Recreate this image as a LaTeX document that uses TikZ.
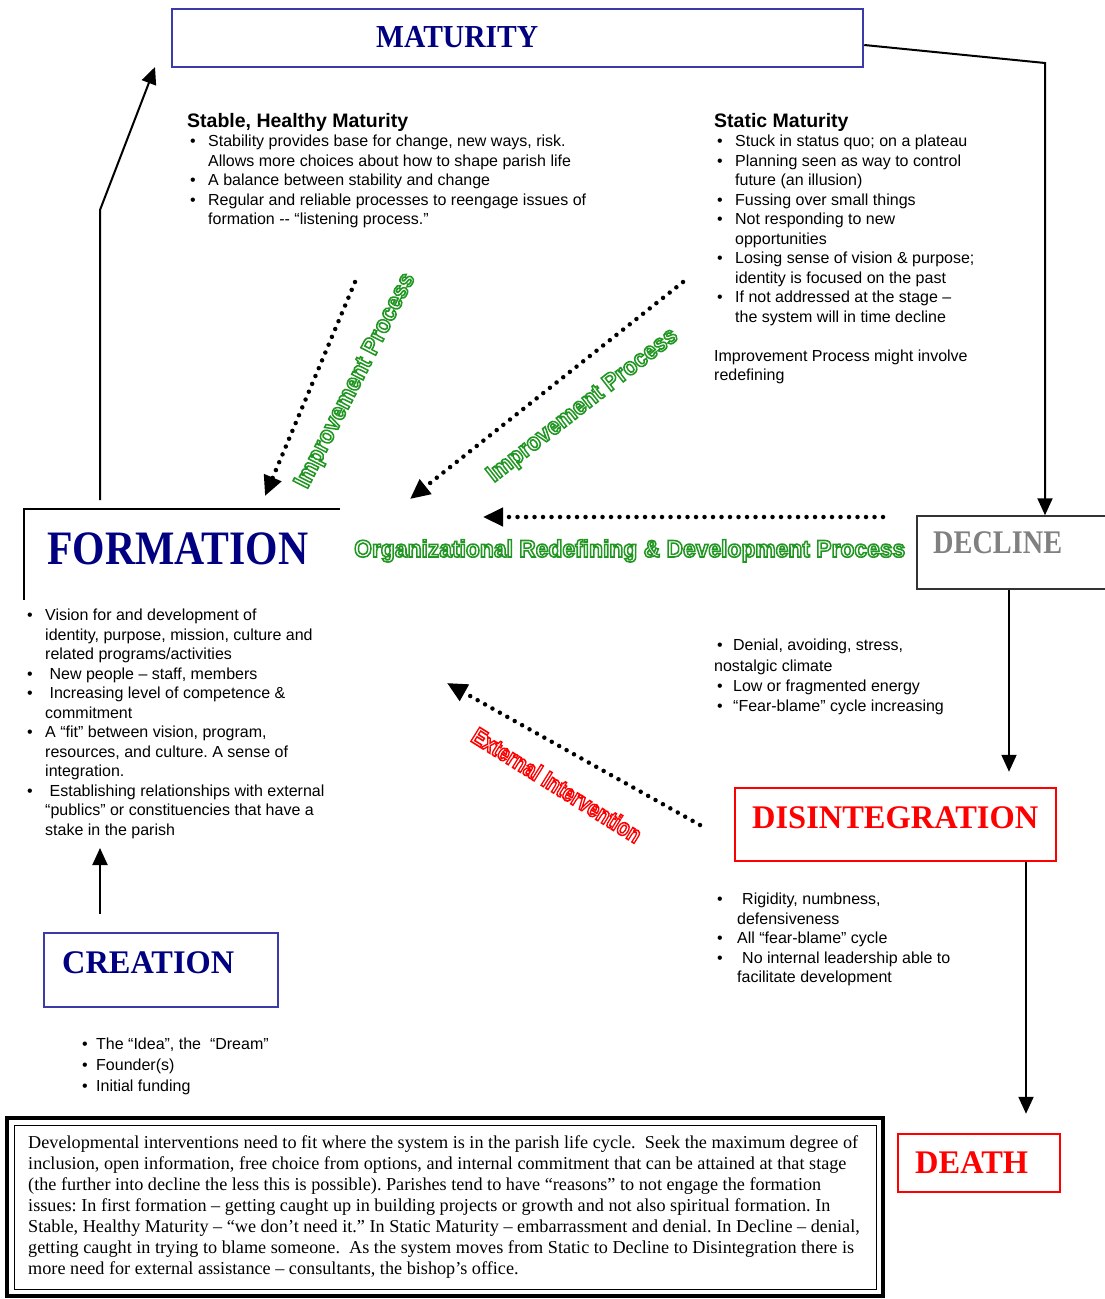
\documentclass[tikz,border=0pt]{standalone}
\usepackage{fontspec}
\setmainfont{Liberation Serif}
\setsansfont{Liberation Sans}
\usetikzlibrary{arrows.meta,calc}

\definecolor{titlenavy}{RGB}{0,0,128}
\definecolor{boxblue}{RGB}{58,58,168}
\definecolor{procgreen}{RGB}{34,150,34}
\definecolor{declgray}{RGB}{128,128,128}

% bullet with hanging indent
\newcommand\bul[1][21pt]{\makebox[#1][l]{\hspace{3pt}\textbullet}}
\newcommand\ind[1][21pt]{\hspace*{#1}}
% condensed bold stage name
\newcommand\stagetitle[3]{\resizebox{#1}{\height}{\fontsize{#2}{#2}\selectfont\bfseries #3}}
% hollow lettering (stroked glyphs only)
\newcommand\hollow[3]{\resizebox{#2}{\height}{\color{#1}\special{pdf:literal direct 1 Tr 1.6 w}#3\special{pdf:literal direct 0 Tr}}}

\begin{document}
\frenchspacing
\begin{tikzpicture}[x=1pt,y=1pt,yscale=-1,
  stagebox/.style={draw=#1, line width=2.5pt, inner sep=0pt},
  stagename/.style={inner sep=0pt, anchor=west},
  bodytext/.style={anchor=north west, inner sep=0pt, align=left, font=\sffamily\fontsize{16}{19.5}\selectfont},
  arrowline/.style={line width=2pt, -{Triangle[length=17pt,width=15pt]}},
  dotarrow/.style={line width=4.5pt, dash pattern=on 0pt off 8.5pt, line cap=round, -{Triangle[length=20pt,width=18pt]}},
  proclabel/.style={inner sep=0pt, font=\sffamily\bfseries\fontsize{24}{24}\selectfont}]
\useasboundingbox (0,0) rectangle (1105,1299);

% Stage boxes
\node[stagebox=boxblue, minimum width=691pt, minimum height=58pt] (maturity) at (517.5,38) {};
\node[stagebox=boxblue, minimum width=234pt, minimum height=74pt] (creation) at (161,970) {};
\node[stagebox=black!80, line width=1.5pt, minimum width=191pt, minimum height=73pt] (decline) at (1012.5,552.5) {};
\node[stagebox=red, minimum width=321pt, minimum height=73pt] (disintegration) at (895.5,824.5) {};
\node[stagebox=red, minimum width=162pt, minimum height=58pt] (death) at (979,1163) {};
% FORMATION only has an open frame
\draw[line width=2pt] (340,509) -| (24,600);

% Stage names
\node[stagename, text=titlenavy] (maturityname) at (376,37.5) {\stagetitle{162pt}{32}{MATURITY}};
\node[stagename, text=titlenavy] (formationname) at (47,549) {\stagetitle{261pt}{48}{FORMATION}};
\node[stagename, text=titlenavy] (creationname) at (62,963) {\stagetitle{172pt}{33}{CREATION}};
\node[stagename, text=declgray] (declinename) at (933,543) {\stagetitle{129pt}{33}{DECLINE}};
\node[stagename, text=red] (disintegrationname) at (752,818) {\stagetitle{286pt}{33}{DISINTEGRATION}};
\node[stagename, text=red] (deathname) at (915,1162.5) {\stagetitle{113pt}{33}{DEATH}};

% Life cycle connectors
\coordinate (matbend) at (1045,63);
\draw[arrowline] ($(maturity.east)+(0,7)$) -- (matbend) -- (matbend |- decline.north);
\coordinate (formtop) at (100,500);
\coordinate (formbend) at (100,210);
\coordinate (matentry) at (155,67);
\draw[arrowline] (formtop) -- (formbend) -- (matentry);
\coordinate (declx) at (1009,0);
\draw[arrowline, shorten >=15pt] (decline.south -| declx) -- (disintegration.north -| declx);
\coordinate (disx) at (1026,0);
\draw[arrowline, shorten >=19pt] (disintegration.south -| disx) -- (death.north -| disx);
\coordinate (formbase) at (100,848);
\draw[arrowline, shorten <=18pt] (creation.north -| formbase) -- (formbase);

% Improvement and intervention processes
\coordinate (ipastart) at (355,282);
\coordinate (ipaend) at (265,496);
\draw[dotarrow] (ipastart) -- (ipaend);
\coordinate (ipbstart) at (683,282);
\coordinate (ipbend) at (410,499);
\draw[dotarrow] (ipbstart) -- (ipbend);
\coordinate (ordstart) at (883,517);
\coordinate (ordend) at (483,517);
\draw[dotarrow] (ordstart) -- (ordend);
\coordinate (extout) at (700,825);
\coordinate (extin) at (447,683);
\draw[dotarrow] (extout) -- (extin);

\node[proclabel, rotate=63] (iplabela) at (356,381) {\hollow{procgreen}{238pt}{Improvement Process}};
\node[proclabel, rotate=38] (iplabelb) at (583,406) {\hollow{procgreen}{235pt}{Improvement Process}};
\node[proclabel, anchor=base west] (orglabel) at (354,557) {\hollow{procgreen}{551pt}{Organizational Redefining \& Development Process}};
\node[proclabel, rotate=-32] (extlabel) at (557,785) {\hollow{red}{195pt}{External Intervention}};

% Stage notes
\node[bodytext] (stable) at (187,113) {{\fontsize{19.5}{19.5}\selectfont\bfseries Stable, Healthy Maturity}\\
\bul Stability provides base for change, new ways, risk.\\
\ind Allows more choices about how to shape parish life\\
\bul A balance between stability and change\\
\bul Regular and reliable processes to reengage issues of\\
\ind formation -{}- “listening process.”};

\node[bodytext] (static) at (714,113) {{\fontsize{19.5}{19.5}\selectfont\bfseries Static Maturity}\\
\bul Stuck in status quo; on a plateau\\
\bul Planning seen as way to control\\
\ind future (an illusion)\\
\bul Fussing over small things\\
\bul Not responding to new\\
\ind opportunities\\
\bul Losing sense of vision \& purpose;\\
\ind identity is focused on the past\\
\bul If not addressed at the stage –\\
\ind the system will in time decline\\[19.5pt]
Improvement Process might involve\\
redefining};

\node[bodytext] (formationnotes) at (24,609) {\bul Vision for and development of\\
\ind identity, purpose, mission, culture and\\
\ind related programs/activities\\
\bul\ New people – staff, members\\
\bul\ Increasing level of competence \&\\
\ind commitment\\
\bul A “fit” between vision, program,\\
\ind resources, and culture. A sense of\\
\ind integration.\\
\bul\ Establishing relationships with external\\
\ind “publics” or constituencies that have a\\
\ind stake in the parish};

\node[bodytext, font=\sffamily\fontsize{16}{20.3}\selectfont] (declinenotes) at (714,639) {\bul[19pt]Denial, avoiding, stress,\\
nostalgic climate\\
\bul[19pt]Low or fragmented energy\\
\bul[19pt]“Fear-blame” cycle increasing};

\node[bodytext] (disintegrationnotes) at (714,893) {\bul[23pt]\hspace{5pt}Rigidity, numbness,\\
\ind[23pt]defensiveness\\
\bul[23pt]All “fear-blame” cycle\\
\bul[23pt]\hspace{5pt}No internal leadership able to\\
\ind[23pt]facilitate development};

\node[bodytext, font=\sffamily\fontsize{16}{21}\selectfont] (creationnotes) at (79,1038) {\bul[17pt]The “Idea”, the \ “Dream”\\
\bul[17pt]Founder(s)\\
\bul[17pt]Initial funding};

% Advice box
\draw[line width=4pt] (7,1118) rectangle (883,1296);
\draw[line width=1pt] (14,1125) rectangle (876,1289);
\node[anchor=north west, inner sep=0pt, align=left, font=\fontsize{18.2}{21}\selectfont] (advice) at (28,1135) {Developmental interventions need to fit where the system is in the parish life cycle.\ \ Seek the maximum degree of\\
inclusion, open information, free choice from options, and internal commitment that can be attained at that stage\\
(the further into decline the less this is possible). Parishes tend to have “reasons” to not engage the formation\\
issues: In first formation – getting caught up in building projects or growth and not also spiritual formation. In\\
Stable, Healthy Maturity – “we don’t need it.” In Static Maturity – embarrassment and denial. In Decline – denial,\\
getting caught in trying to blame someone.\ \ As the system moves from Static to Decline to Disintegration there is\\
more need for external assistance – consultants, the bishop’s office.};
\end{tikzpicture}
\end{document}
